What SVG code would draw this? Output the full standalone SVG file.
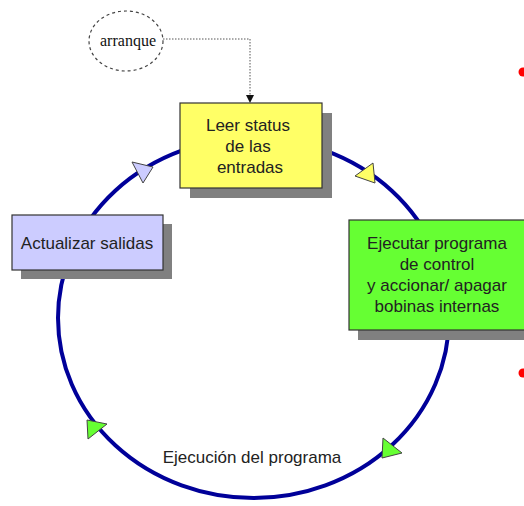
<svg xmlns="http://www.w3.org/2000/svg" width="524" height="506" viewBox="0 0 524 506">
<defs>
<style>
.lbl{font-family:"Liberation Sans",Arial,sans-serif;font-size:17px;fill:#222;text-anchor:middle}
.box{stroke:#333;stroke-width:1.2}
.shadow{fill:#808080}
.tri{stroke:#444;stroke-width:1}
</style>
<marker id="ah" markerWidth="8" markerHeight="8" refX="7" refY="4" orient="auto" markerUnits="userSpaceOnUse">
<path d="M0,0 L8,4 L0,8 z" fill="#111"/>
</marker>
</defs>
<rect width="524" height="506" fill="#fff"/>
<g id="connectors">
<ellipse cx="253.5" cy="318" rx="195.5" ry="180" fill="none" stroke="#000099" stroke-width="4"/>
<polyline points="163,39 250,39 250,102" fill="none" stroke="#555" stroke-width="1" stroke-dasharray="1.5,1.5" marker-end="url(#ah)"/>
<polygon class="tri" points="132,162 153,167 143,183" fill="#ccccff"/>
<polygon class="tri" points="355,176 373,163 375,183" fill="#ffff66"/>
<polygon class="tri" points="87,420 107,424 88,439" fill="#66ff33"/>
<polygon class="tri" points="383,438 402,453 382,458" fill="#66ff33"/>
</g>
<g id="arranque">
<ellipse cx="126" cy="41" rx="37" ry="30" fill="#fff" stroke="#444" stroke-width="1.2" stroke-dasharray="3,3"/>
<text x="128" y="46" style="font-family:'Liberation Serif','Times New Roman',serif;font-size:16px;fill:#111;text-anchor:middle">arranque</text>
</g>
<g id="leer">
<rect class="shadow" x="190" y="113" width="142" height="85"/>
<rect class="box" x="180" y="103" width="142" height="85" fill="#ffff66"/>
<text class="lbl" x="248" y="131">Leer status</text>
<text class="lbl" x="248" y="152">de las</text>
<text class="lbl" x="250" y="173">entradas</text>
</g>
<g id="ejecutar">
<rect class="shadow" x="358" y="230" width="180" height="110"/>
<rect class="box" x="349" y="220" width="180" height="110" fill="#66ff33"/>
<text class="lbl" x="437" y="249">Ejecutar programa</text>
<text class="lbl" x="437" y="270">de control</text>
<text class="lbl" x="437" y="291">y accionar/ apagar</text>
<text class="lbl" x="437" y="312">bobinas internas</text>
</g>
<g id="actualizar">
<rect class="shadow" x="21" y="224" width="151" height="55"/>
<rect class="box" x="12" y="215" width="151" height="55" fill="#ccccff"/>
<text class="lbl" x="87" y="249">Actualizar salidas</text>
</g>
<g id="ejecucion">
<text class="lbl" x="252" y="463">Ejecución del programa</text>
</g>
<g id="bullets">
<circle cx="523" cy="72" r="4.5" fill="#ff0000"/>
<circle cx="523" cy="373" r="4.5" fill="#ff0000"/>
</g>
</svg>
